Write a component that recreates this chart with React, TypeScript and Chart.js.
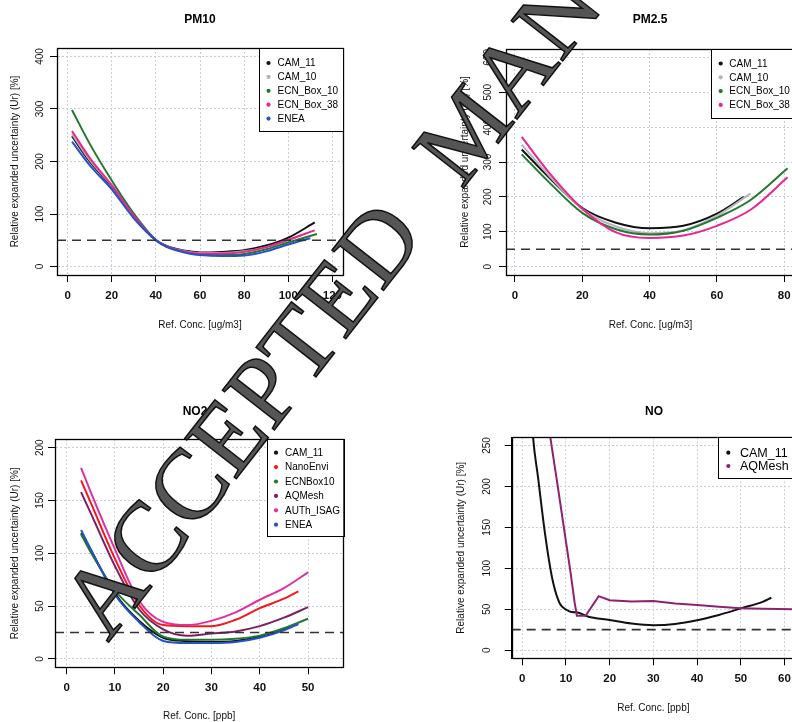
import React, { useEffect, useRef } from 'react';
import { Chart, registerables } from 'chart.js';
Chart.register(...registerables);

const FONT = "'Liberation Sans', Arial, Helvetica, sans-serif";

// ---------- PM10 ----------
const pm10Cam11X = [2, 10, 20, 30, 40, 45, 50, 55, 60, 70, 80, 90, 100, 112];
const pm10Cam11Y = [248, 200, 152, 95, 50, 39, 33, 29, 27, 28, 31, 40, 55, 84];
const pm10Cam10X = [2, 10, 20, 30, 40, 45, 50, 55, 60, 70, 80, 90, 100, 106];
const pm10Cam10Y = [252, 203, 154, 96, 50, 38, 32, 28, 26, 26, 29, 37, 50, 60];
const pm10Ecn10X = [2, 10, 20, 30, 40, 45, 50, 55, 60, 70, 80, 90, 100, 113];
const pm10Ecn10Y = [298, 234, 164, 101, 51, 39, 31, 26, 23, 22, 24, 33, 46, 62];
const pm10Ecn38X = [2, 10, 20, 30, 40, 45, 50, 55, 60, 70, 80, 90, 100, 112];
const pm10Ecn38Y = [258, 207, 155, 97, 50, 38, 31, 27, 25, 25, 28, 37, 51, 69];
const pm10EneaX = [2, 10, 20, 30, 40, 45, 50, 55, 60, 70, 80, 90, 100, 110];
const pm10EneaY = [238, 193, 147, 92, 50, 37, 30, 25, 22, 20, 21, 29, 42, 54];
const pm10Ref = 50;

// ---------- PM2.5 ----------
const pm25Cam11X = [2, 10, 20, 30, 40, 50, 60, 68];
const pm25Cam11Y = [336, 257, 168, 126, 110, 117, 152, 200];
const pm25Cam10X = [2, 10, 20, 30, 40, 50, 60, 70];
const pm25Cam10Y = [350, 262, 165, 115, 96, 104, 146, 210];
const pm25Ecn10X = [2, 10, 20, 30, 40, 50, 60, 70, 81];
const pm25Ecn10Y = [322, 243, 154, 107, 92, 103, 140, 191, 282];
const pm25Ecn38X = [2, 10, 20, 30, 40, 50, 60, 70, 81];
const pm25Ecn38Y = [372, 271, 166, 98, 82, 89, 117, 163, 256];
const pm25Ref = 50;

// ---------- NO2 ----------
const no2Cam11X = [3, 5, 10, 15, 20, 25, 30, 35, 40, 46];
const no2Cam11Y = [119, 103, 62, 36, 20, 16.7, 16, 17, 21, 30];
const no2NanoX = [3, 5, 10, 15, 20, 25, 30, 35, 40, 45, 48];
const no2NanoY = [169, 148, 95, 51, 32, 31, 31, 37, 48, 57, 64];
const no2EcnX = [3, 5, 10, 15, 20, 25, 30, 35, 40, 45, 50];
const no2EcnY = [118, 101, 65, 42, 21, 18, 18, 19, 22, 29, 38];
const no2AqX = [3, 5, 10, 15, 20, 25, 30, 35, 40, 45, 50];
const no2AqY = [158, 138, 88, 47, 28, 22, 24, 26, 31, 39, 49];
const no2AuthX = [3, 5, 10, 15, 20, 25, 30, 35, 40, 45, 50];
const no2AuthY = [181, 158, 104, 55, 35, 32, 36, 44, 56, 67, 82];
const no2EneaX = [3, 5, 10, 15, 20, 25, 30, 35, 40, 45, 48];
const no2EneaY = [122, 104, 61, 35, 17, 15, 15, 16, 20, 27, 33];
const no2Ref = 25;

// ---------- NO ----------
const noCam11X = [2, 2.5, 3.7, 4.8, 6, 7.1, 8.6, 10.2, 11.3, 12.7, 15, 20, 25, 30, 35, 40, 45, 50, 55, 57];
const noCam11Y = [300, 259, 208, 159, 114, 82, 57, 49, 46.5, 46, 41, 36.8, 32.5, 30.5, 32, 36.5, 43, 51, 59, 64];
const noAqX = [6, 8, 10, 11, 12, 12.5, 14.5, 17.5, 20, 25, 30, 35, 40, 45, 50, 55, 62];
const noAqY = [275, 205, 133, 97, 58, 42, 42, 66, 61, 59.5, 60, 57, 55, 53, 51, 50.5, 50];
const noRef = 25;

type Series = { label: string; color: string; xs: number[]; ys: number[]; straight?: boolean };
type LegendSpec = { left: number; top: number; w: number; h: number; row0: number; rowH: number; dotDx: number; textDx: number; fs: number };
type Panel = {
  left: number; top: number; w: number; h: number;
  area: { left: number; top: number; right: number; bottom: number };
  xMin: number; xMax: number; xStep: number;
  yMin: number; yMax: number; yStep: number;
  title: string; titleX: number; titleY: number;
  xTitle: string; yTitle: string;
  yTitleX: number; yTickX: number; xTickY: number; xTitleY: number;
  ref: number;
  series: Series[];
  legend: LegendSpec;
};

const BLACK = '#111111';
const GRAY = '#b4b4bc';
const GREEN = '#23782d';
const PINK = '#e8268e';
const BLUE = '#2452c8';
const RED = '#f2181c';
const PURPLE = '#7b2062';
const MAGENTA = '#e030a0';
const YTITLE = 'Relative expanded uncertainty (Ur) [%]';

const panels: Panel[] = [
  {
    left: 0, top: 0, w: 400, h: 350,
    area: { left: 57, top: 48, right: 343, bottom: 275 },
    xMin: -4.8, xMax: 124.8, xStep: 20, yMin: -16, yMax: 416, yStep: 100,
    title: 'PM10', titleX: 200, titleY: 20,
    xTitle: 'Ref. Conc. [ug/m3]', yTitle: YTITLE,
    yTitleX: 15, yTickX: 40, xTickY: 296, xTitleY: 325,
    ref: pm10Ref,
    series: [
      { label: 'CAM_11', color: BLACK, xs: pm10Cam11X, ys: pm10Cam11Y },
      { label: 'CAM_10', color: GRAY, xs: pm10Cam10X, ys: pm10Cam10Y },
      { label: 'ECN_Box_10', color: GREEN, xs: pm10Ecn10X, ys: pm10Ecn10Y },
      { label: 'ECN_Box_38', color: PINK, xs: pm10Ecn38X, ys: pm10Ecn38Y },
      { label: 'ENEA', color: BLUE, xs: pm10EneaX, ys: pm10EneaY },
    ],
    legend: { left: 259, top: 48, w: 84, h: 83, row0: 15, rowH: 13.9, dotDx: 9.5, textDx: 18.5, fs: 10 },
  },
  {
    left: 400, top: 0, w: 420, h: 350,
    area: { left: 106, top: 49, right: 395, bottom: 275 },
    xMin: -2.67, xMax: 83.2, xStep: 20, yMin: -24, yMax: 624, yStep: 100,
    title: 'PM2.5', titleX: 250, titleY: 20,
    xTitle: 'Ref. Conc. [ug/m3]', yTitle: YTITLE,
    yTitleX: 65, yTickX: 88.3, xTickY: 296, xTitleY: 325,
    ref: pm25Ref,
    series: [
      { label: 'CAM_11', color: BLACK, xs: pm25Cam11X, ys: pm25Cam11Y },
      { label: 'CAM_10', color: GRAY, xs: pm25Cam10X, ys: pm25Cam10Y },
      { label: 'ECN_Box_10', color: GREEN, xs: pm25Ecn10X, ys: pm25Ecn10Y },
      { label: 'ECN_Box_38', color: PINK, xs: pm25Ecn38X, ys: pm25Ecn38Y },
    ],
    legend: { left: 311, top: 49, w: 85, h: 69, row0: 14.5, rowH: 13.8, dotDx: 9.7, textDx: 18.3, fs: 10 },
  },
  {
    left: 0, top: 370, w: 400, h: 352,
    area: { left: 55, top: 69.3, right: 343.3, bottom: 297.3 },
    xMin: -2.4, xMax: 57.3, xStep: 10, yMin: -8, yMax: 208, yStep: 50,
    title: 'NO2', titleX: 195, titleY: 42,
    xTitle: 'Ref. Conc. [ppb]', yTitle: YTITLE,
    yTitleX: 15, yTickX: 40, xTickY: 318.3, xTitleY: 346.7,
    ref: no2Ref,
    series: [
      { label: 'CAM_11', color: BLACK, xs: no2Cam11X, ys: no2Cam11Y },
      { label: 'NanoEnvi', color: RED, xs: no2NanoX, ys: no2NanoY },
      { label: 'ECNBox10', color: GREEN, xs: no2EcnX, ys: no2EcnY },
      { label: 'AQMesh', color: PURPLE, xs: no2AqX, ys: no2AqY },
      { label: 'AUTh_ISAG', color: MAGENTA, xs: no2AuthX, ys: no2AuthY },
      { label: 'ENEA', color: BLUE, xs: no2EneaX, ys: no2EneaY },
    ],
    legend: { left: 266.7, top: 69.3, w: 76.6, h: 97.4, row0: 13.4, rowH: 14.4, dotDx: 9.3, textDx: 18.3, fs: 10 },
  },
  {
    left: 400, top: 370, w: 420, h: 352,
    area: { left: 111.7, top: 67.3, right: 395, bottom: 288.3 },
    xMin: -2.4, xMax: 62.4, xStep: 10, yMin: -10, yMax: 260, yStep: 50,
    title: 'NO', titleX: 254, titleY: 42,
    xTitle: 'Ref. Conc. [ppb]', yTitle: YTITLE,
    yTitleX: 61.7, yTickX: 87.3, xTickY: 309.3, xTitleY: 338.3,
    ref: noRef,
    series: [
      { label: 'CAM_11', color: BLACK, xs: noCam11X, ys: noCam11Y },
      { label: 'AQMesh', color: '#8c2272', xs: noAqX, ys: noAqY, straight: true },
    ],
    legend: { left: 317.7, top: 67.3, w: 77.3, h: 41, row0: 15.4, rowH: 13.3, dotDx: 10.6, textDx: 22.3, fs: 12.5 },
  },
];

const TICK_LEN = 7;
const YTICK_FS = 10;
const XTICK_FS = 11.5;
const AXT_FS = 10;

const decorPlugin = {
  id: 'panelDecor',
  afterDraw(chart: any, _args: any, opts: any) {
    const ctx = chart.ctx as CanvasRenderingContext2D;
    const a = chart.chartArea;
    ctx.save();
    ctx.strokeStyle = '#000';
    ctx.lineWidth = 1.3;
    ctx.strokeRect(Math.round(a.left) + 0.5, Math.round(a.top) + 0.5, Math.round(a.right - a.left), Math.round(a.bottom - a.top));
    ctx.fillStyle = '#000';
    ctx.font = `bold 12px ${FONT}`;
    ctx.textAlign = 'center';
    ctx.textBaseline = 'middle';
    ctx.fillText(opts.title, opts.titleX, opts.titleY);
    const L = opts.legend as LegendSpec;
    ctx.fillStyle = '#fff';
    ctx.fillRect(L.left, L.top, L.w, L.h);
    ctx.strokeStyle = '#000';
    ctx.lineWidth = 1;
    ctx.strokeRect(Math.round(L.left) + 0.5, Math.round(L.top) + 0.5, Math.round(L.w), Math.round(L.h));
    ctx.font = `${L.fs}px ${FONT}`;
    ctx.textAlign = 'left';
    let row = 0;
    chart.data.datasets.forEach((ds: any) => {
      if (!ds.label) return;
      const y = L.top + L.row0 + row * L.rowH;
      ctx.fillStyle = ds.borderColor;
      ctx.beginPath();
      ctx.arc(L.left + L.dotDx, y, 2.1, 0, Math.PI * 2);
      ctx.fill();
      ctx.fillStyle = '#000';
      ctx.fillText(ds.label, L.left + L.textDx, y + 0.5);
      row++;
    });
    ctx.restore();
  },
};

function PanelChart({ p }: { p: Panel }) {
  const ref = useRef<HTMLCanvasElement>(null);
  useEffect(() => {
    const canvas = ref.current!;
    const mctx = document.createElement('canvas').getContext('2d')!;
    mctx.font = `${YTICK_FS}px ${FONT}`;
    let widest = 0;
    for (let v = 0; v <= p.yMax; v += p.yStep) widest = Math.max(widest, mctx.measureText(String(v)).width);
    const yTickPad = p.area.left - TICK_LEN - p.yTickX - widest / 2;
    const xTickPad = p.xTickY - p.area.bottom - TICK_LEN - (XTICK_FS * 1.2) / 2;
    const xTitlePadBottom = p.h - p.xTitleY - (AXT_FS * 1.2) / 2;
    const yTitlePadTop = p.yTitleX - (AXT_FS * 1.2) / 2;

    const datasets: any[] = p.series.map((s, i) => ({
      label: s.label,
      data: s.xs.map((x, j) => ({ x, y: s.ys[j] })),
      borderColor: s.color,
      backgroundColor: s.color,
      borderWidth: 2,
      pointRadius: 0,
      fill: false,
      tension: 0,
      cubicInterpolationMode: s.straight ? 'default' : 'monotone',
      order: -i,
    }));
    datasets.push({
      label: '',
      data: [{ x: p.xMin, y: p.ref }, { x: p.xMax, y: p.ref }],
      borderColor: '#333',
      borderDash: [9, 6],
      borderWidth: 1.6,
      pointRadius: 0,
      fill: false,
      order: -100,
    });

    const gridCommon = {
      color: '#c9ccd9',
      lineWidth: 1,
      drawTicks: true,
      tickLength: TICK_LEN,
      tickColor: '#000',
      tickWidth: 1,
      tickBorderDash: [],
    };

    const chart = new Chart(canvas, {
      type: 'line',
      data: { datasets },
      plugins: [decorPlugin],
      options: {
        responsive: false,
        animation: false,
        events: [],
        layout: { padding: { left: 0, top: p.area.top, right: p.w - p.area.right, bottom: 0 } },
        plugins: {
          legend: { display: false },
          tooltip: { enabled: false },
          title: { display: false },
          panelDecor: { title: p.title, titleX: p.titleX, titleY: p.titleY, legend: p.legend },
        } as any,
        scales: {
          x: {
            type: 'linear',
            min: p.xMin,
            max: p.xMax,
            afterFit: (s: any) => { s.height = p.h - p.area.bottom; },
            grid: gridCommon,
            border: { display: true, color: '#000', width: 1, dash: [2, 2] },
            ticks: {
              stepSize: p.xStep,
              includeBounds: false,
              autoSkip: false,
              maxRotation: 0,
              minRotation: 0,
              padding: xTickPad,
              color: '#111',
              font: { family: FONT, size: XTICK_FS, weight: 'bold', lineHeight: 1.2 },
            },
            title: {
              display: true,
              text: p.xTitle,
              color: '#111',
              font: { family: FONT, size: AXT_FS, lineHeight: 1.2 },
              padding: { top: 0, bottom: xTitlePadBottom },
            },
          },
          y: {
            type: 'linear',
            min: p.yMin,
            max: p.yMax,
            afterFit: (s: any) => { s.width = p.area.left; },
            grid: gridCommon,
            border: { display: true, color: '#000', width: 1, dash: [2, 2] },
            ticks: {
              stepSize: p.yStep,
              includeBounds: false,
              autoSkip: false,
              minRotation: 90,
              maxRotation: 90,
              crossAlign: 'center',
              padding: yTickPad,
              color: '#111',
              font: { family: FONT, size: YTICK_FS, lineHeight: 1.2 },
            },
            title: {
              display: true,
              text: p.yTitle,
              color: '#111',
              font: { family: FONT, size: AXT_FS, lineHeight: 1.2 },
              padding: { top: yTitlePadTop, bottom: 0 },
            },
          },
        } as any,
      },
    } as any);
    return () => chart.destroy();
  }, [p]);
  return (
    <canvas
      ref={ref}
      width={p.w}
      height={p.h}
      style={{ position: 'absolute', left: p.left, top: p.top, width: p.w, height: p.h }}
    />
  );
}

export default function App() {
  return (
    <div style={{ position: 'absolute', left: 0, top: 0, width: 792, height: 722, overflow: 'hidden', background: '#fff' }}>
      {panels.map((p, i) => (
        <PanelChart key={i} p={p} />
      ))}
      <svg width={792} height={722} style={{ position: 'absolute', left: 0, top: 0, pointerEvents: 'none' }}>
        <text
          x={108}
          y={643}
          transform="rotate(-52 108 643)"
          fontFamily="'Liberation Serif', 'Times New Roman', serif"
          fontSize={100}
          fill="#555555"
          stroke="#111"
          strokeWidth={1.5}
        >
          ACCEPTED
          <tspan dx={58}>MANUSCRIPT</tspan>
        </text>
      </svg>
    </div>
  );
}
